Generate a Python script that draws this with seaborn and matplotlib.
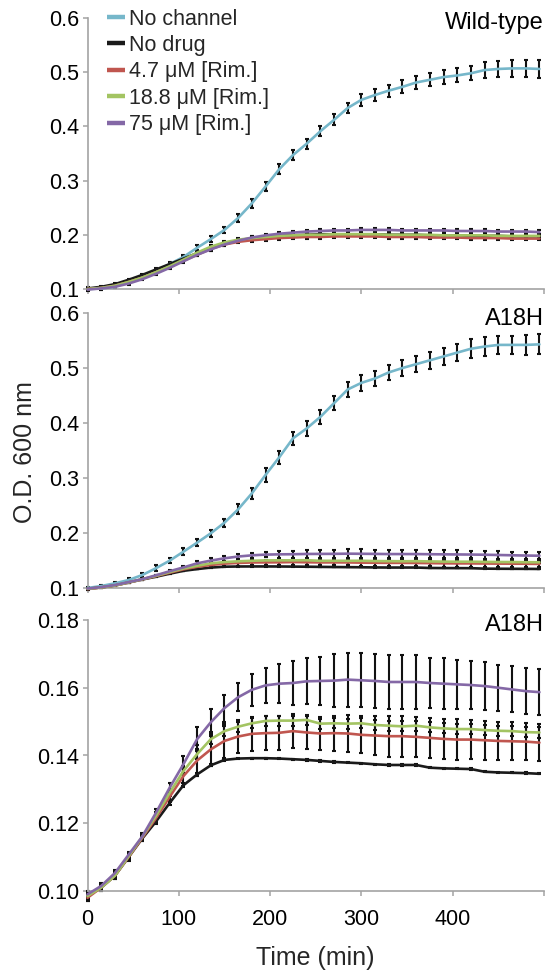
import numpy as np
import pandas as pd
import matplotlib
matplotlib.use("Agg")
import matplotlib.pyplot as plt
from matplotlib.lines import Line2D
import seaborn as sns

# ---------------- data ----------------
time_min = list(range(0, 496, 15))  # 0 .. 495 min

conditions = ["No channel", "No drug", "4.7 \u03bcM [Rim.]", "18.8 \u03bcM [Rim.]", "75 \u03bcM [Rim.]"]
colors = ["#76b7ca", "#1a1a1a", "#c0564f", "#a3c462", "#8468a6"]

# Wild-type panel
wt_no_channel = [0.100, 0.101, 0.104, 0.1135, 0.1227, 0.133, 0.146, 0.159, 0.176, 0.192, 0.209, 0.231,
                 0.258, 0.289, 0.321, 0.347, 0.368, 0.391, 0.412, 0.434, 0.449, 0.458, 0.466, 0.473,
                 0.481, 0.486, 0.491, 0.494, 0.498, 0.504, 0.506, 0.507, 0.507, 0.506]
wt_no_drug = [0.101, 0.104, 0.109, 0.117, 0.126, 0.136, 0.146, 0.156, 0.166, 0.176, 0.184, 0.189,
              0.193, 0.196, 0.198, 0.199, 0.200, 0.201, 0.201, 0.201, 0.201, 0.201, 0.200, 0.200,
              0.200, 0.199, 0.199, 0.199, 0.198, 0.198, 0.198, 0.197, 0.197, 0.197]
wt_rim_4_7 = [0.100, 0.102, 0.106, 0.113, 0.121, 0.131, 0.141, 0.152, 0.163, 0.174, 0.182, 0.187,
              0.190, 0.192, 0.194, 0.195, 0.196, 0.196, 0.197, 0.197, 0.197, 0.197, 0.196, 0.196,
              0.196, 0.195, 0.195, 0.195, 0.194, 0.194, 0.194, 0.193, 0.193, 0.193]
wt_rim_18_8 = [0.100, 0.102, 0.106, 0.113, 0.121, 0.131, 0.142, 0.154, 0.167, 0.178, 0.186, 0.191,
               0.194, 0.196, 0.198, 0.199, 0.200, 0.200, 0.201, 0.201, 0.201, 0.201, 0.200, 0.200,
               0.200, 0.200, 0.199, 0.199, 0.199, 0.199, 0.198, 0.198, 0.198, 0.198]
wt_rim_75 = [0.099, 0.101, 0.104, 0.110, 0.118, 0.128, 0.139, 0.151, 0.163, 0.173, 0.182, 0.189,
             0.195, 0.199, 0.202, 0.204, 0.206, 0.207, 0.208, 0.208, 0.209, 0.209, 0.209, 0.208,
             0.208, 0.208, 0.208, 0.207, 0.207, 0.207, 0.206, 0.206, 0.206, 0.205]
wt_no_channel_err = [0.002, 0.002, 0.002, 0.002, 0.003, 0.003, 0.003, 0.004, 0.0045, 0.005, 0.006, 0.007,
                     0.008, 0.009, 0.009, 0.009, 0.009, 0.009, 0.010, 0.010, 0.011, 0.011, 0.011, 0.012,
                     0.012, 0.012, 0.013, 0.013, 0.013, 0.014, 0.015, 0.015, 0.016, 0.016]
wt_other_err = [0.002, 0.002, 0.002, 0.002, 0.002, 0.002, 0.002, 0.003, 0.003, 0.003, 0.003, 0.003,
                0.003, 0.003, 0.003, 0.003, 0.003, 0.003, 0.003, 0.003, 0.003, 0.003, 0.003, 0.003,
                0.003, 0.003, 0.003, 0.003, 0.003, 0.003, 0.003, 0.003, 0.003, 0.003]

# A18H panels
a18h_no_channel = [0.100, 0.1036, 0.1085, 0.1145, 0.1236, 0.136, 0.1497, 0.166, 0.1824, 0.1994, 0.2188,
                   0.243, 0.272, 0.3055, 0.3376, 0.372, 0.390, 0.411, 0.436, 0.461, 0.473, 0.481, 0.492,
                   0.500, 0.507, 0.514, 0.521, 0.528, 0.535, 0.539, 0.542, 0.542, 0.542, 0.543]
a18h_no_drug = [0.0985, 0.1010, 0.1045, 0.1100, 0.1155, 0.1205, 0.1260, 0.1312, 0.1344, 0.1371, 0.1387,
                0.1391, 0.1392, 0.1392, 0.1391, 0.1389, 0.1387, 0.1384, 0.1381, 0.1379, 0.1377, 0.1374,
                0.1372, 0.1372, 0.1372, 0.1364, 0.1362, 0.1361, 0.1360, 0.1352, 0.1350, 0.1349, 0.1348,
                0.1346]
a18h_rim_4_7 = [0.0980, 0.1010, 0.1045, 0.1100, 0.1157, 0.1215, 0.1278, 0.1339, 0.1385, 0.1418, 0.1443,
                0.1456, 0.1464, 0.1466, 0.1467, 0.1472, 0.1468, 0.1465, 0.1466, 0.1465, 0.1461, 0.1459,
                0.1457, 0.1457, 0.1455, 0.1452, 0.1449, 0.1447, 0.1447, 0.1445, 0.1443, 0.1442, 0.1441,
                0.1438]
a18h_rim_18_8 = [0.0985, 0.1010, 0.1045, 0.1102, 0.1160, 0.1222, 0.1290, 0.1354, 0.1404, 0.1448, 0.1472,
                 0.1485, 0.1495, 0.1502, 0.1503, 0.1503, 0.1505, 0.1494, 0.1495, 0.1494, 0.1495, 0.1490,
                 0.1488, 0.1486, 0.1488, 0.1483, 0.1480, 0.1478, 0.1478, 0.1475, 0.1473, 0.1472, 0.1469,
                 0.1468]
a18h_rim_75 = [0.0990, 0.1015, 0.1053, 0.1107, 0.1161, 0.1231, 0.1305, 0.1374, 0.1448, 0.1498, 0.1540,
               0.1572, 0.1594, 0.1607, 0.1612, 0.1614, 0.1619, 0.1620, 0.1621, 0.1624, 0.1622, 0.1620,
               0.1617, 0.1617, 0.1617, 0.1614, 0.1612, 0.1610, 0.1608, 0.1605, 0.1600, 0.1595, 0.1590,
               0.1587]
a18h_no_channel_err = [0.001, 0.002, 0.003, 0.004, 0.004, 0.005, 0.005, 0.006, 0.006, 0.006, 0.007, 0.009,
                       0.010, 0.012, 0.012, 0.012, 0.013, 0.013, 0.013, 0.014, 0.014, 0.014, 0.014, 0.015,
                       0.015, 0.015, 0.016, 0.016, 0.017, 0.017, 0.017, 0.017, 0.018, 0.018]
a18h_no_drug_err = [0.0015, 0.0006, 0.0006, 0.0006, 0.0006, 0.0006, 0.0006, 0.0006, 0.0004, 0.0003, 0.0002,
                    0.0002, 0.0002, 0.0002, 0.0002, 0.0002, 0.0002, 0.0002, 0.0002, 0.0002, 0.0002, 0.0002,
                    0.0002, 0.0002, 0.0002, 0.0002, 0.0002, 0.0002, 0.0002, 0.0002, 0.0002, 0.0002, 0.0002,
                    0.0002]
a18h_rim_4_7_err = [0.001, 0.001, 0.001, 0.001, 0.001, 0.001, 0.0015, 0.003, 0.0045, 0.005, 0.005, 0.005,
                    0.005, 0.005, 0.005, 0.005, 0.005, 0.005, 0.0052, 0.0055, 0.0055, 0.0058, 0.006, 0.006,
                    0.006, 0.006, 0.006, 0.006, 0.0058, 0.0058, 0.0056, 0.0056, 0.0055, 0.0055]
a18h_rim_18_8_err = [0.001, 0.001, 0.001, 0.001, 0.001, 0.001, 0.001, 0.0012, 0.0015, 0.0015, 0.0015, 0.0015,
                     0.0015, 0.0015, 0.0015, 0.0015, 0.0015, 0.0015, 0.0015, 0.0015, 0.0015, 0.0015, 0.0015,
                     0.0015, 0.0015, 0.0015, 0.0015, 0.0015, 0.0015, 0.0015, 0.0015, 0.0015, 0.0015, 0.0015]
a18h_rim_75_err = [0.0008, 0.0008, 0.0008, 0.0008, 0.0008, 0.001, 0.0015, 0.0025, 0.0035, 0.004, 0.004,
                   0.0042, 0.0047, 0.0052, 0.0058, 0.0065, 0.0068, 0.007, 0.0078, 0.008, 0.008, 0.008,
                   0.008, 0.008, 0.008, 0.0075, 0.0075, 0.0072, 0.007, 0.007, 0.0068, 0.0068, 0.0067,
                   0.0067]

panel_titles = ["Wild-type", "A18H", "A18H"]
y_ticks_full = [0.1, 0.2, 0.3, 0.4, 0.5, 0.6]
y_labels_full = ["0.1", "0.2", "0.3", "0.4", "0.5", "0.6"]
y_ticks_zoom = [0.10, 0.12, 0.14, 0.16, 0.18]
y_labels_zoom = ["0.10", "0.12", "0.14", "0.16", "0.18"]
x_ticks = [0, 100, 200, 300, 400, 500]
x_labels = ["0", "100", "200", "300", "400", ""]

wt_series = [wt_no_channel, wt_no_drug, wt_rim_4_7, wt_rim_18_8, wt_rim_75]
wt_errs = [wt_no_channel_err, wt_other_err, wt_other_err, wt_other_err, wt_other_err]
a18h_series = [a18h_no_channel, a18h_no_drug, a18h_rim_4_7, a18h_rim_18_8, a18h_rim_75]
a18h_errs = [a18h_no_channel_err, a18h_no_drug_err, a18h_rim_4_7_err, a18h_rim_18_8_err, a18h_rim_75_err]


def long_frame(series_list, err_list, names):
    rows = []
    for name, vals, errs in zip(names, series_list, err_list):
        for t, v, e in zip(time_min, vals, errs):
            rows.append({"Time": t, "OD": v, "err": e, "Condition": name})
    return pd.DataFrame(rows)


df_wt = long_frame(wt_series, wt_errs, conditions)
df_a18h = long_frame(a18h_series, a18h_errs, conditions)
df_a18h_zoom = df_a18h[df_a18h["Condition"] != "No channel"]

# ---------------- style ----------------
sns.set_style("ticks")
plt.rcParams["font.family"] = ["Liberation Sans", "DejaVu Sans"]
palette = dict(zip(conditions, colors))
spine_col = "#a3a3a3"

fig = plt.figure(figsize=(5.51, 9.71), dpi=100)
W, H = 551.0, 971.0
left_px, right_px = 87.5, 544.0
panel_px = [(18, 289), (313, 588), (620, 891)]
axes = []
for top, bot in panel_px:
    ax = fig.add_axes([left_px / W, 1 - bot / H, (right_px - left_px) / W, (bot - top) / H])
    axes.append(ax)

frames = [df_wt, df_a18h, df_a18h_zoom]
ylims = [(0.1, 0.6), (0.1, 0.6), (0.10, 0.18)]

for i, (ax, df) in enumerate(zip(axes, frames)):
    present = [c for c in conditions if c in set(df["Condition"])]
    for c in present:
        sub = df[df["Condition"] == c]
        ax.errorbar(sub["Time"], sub["OD"], yerr=sub["err"], fmt="none", ecolor="#111111",
                    elinewidth=1.5, capsize=1.6, capthick=1.5, zorder=2, clip_on=False)
    sns.lineplot(data=df, x="Time", y="OD", hue="Condition", hue_order=present,
                 palette=palette, linewidth=1.9, legend=False, ax=ax, zorder=3, clip_on=False)
    ax.set_xlim(0, 500)
    ax.set_ylim(*ylims[i])
    ax.set_xlabel("")
    ax.set_ylabel("")
    ax.set_xticks(x_ticks)
    if i == 2:
        ax.set_xticklabels(x_labels)
        ax.set_yticks(y_ticks_zoom)
        ax.set_yticklabels(y_labels_zoom)
    else:
        ax.set_xticklabels([])
        ax.set_yticks(y_ticks_full)
        ax.set_yticklabels(y_labels_full)
    for s in ["top", "right"]:
        ax.spines[s].set_visible(False)
    for s in ["left", "bottom"]:
        ax.spines[s].set_color(spine_col)
        ax.spines[s].set_linewidth(1.2)
    ax.tick_params(axis="both", direction="out", length=3.8, width=1.1, color=spine_col,
                   labelsize=15.5, labelcolor="black")
    ax.tick_params(axis="y", pad=2.5)
    ax.tick_params(axis="x", pad=9.5)
    ax.text(1.0, 0.958, panel_titles[i], transform=ax.transAxes, ha="right", va="baseline",
            fontsize=17, color="black")

axes[2].set_xlabel("Time (min)", fontsize=18, labelpad=11)
fig.text(25.5 / W, 1 - 452 / H, "O.D. 600 nm", rotation=90, ha="center", va="center", fontsize=18)

handles = [Line2D([0], [0], color=col, lw=3.2, solid_capstyle="butt") for col in colors]
axes[0].legend(handles, conditions, loc="upper left", bbox_to_anchor=(0.043, 1.035),
               frameon=False, fontsize=15.5, handlelength=0.85, handletextpad=0.15,
               labelspacing=0.25, borderpad=0, borderaxespad=0)

fig.savefig("out.png", dpi=100)
